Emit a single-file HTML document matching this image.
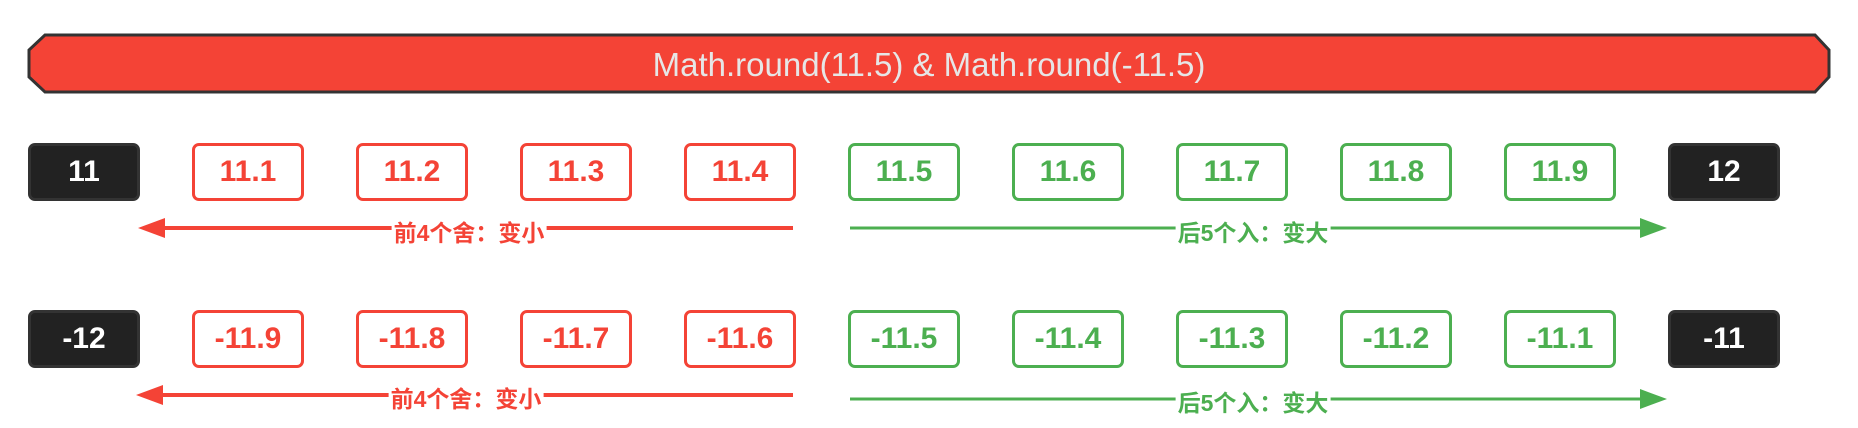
<!DOCTYPE html>
<html><head><meta charset="utf-8"><style>
body{margin:0;background:#fff;width:1858px;height:428px;overflow:hidden;position:relative;font-family:"Liberation Sans","Noto Sans CJK SC",sans-serif}
.box{position:absolute;width:106px;height:52px;border:3px solid;border-radius:7px;box-sizing:content-box;text-align:center;line-height:52px;font-weight:bold;font-size:30px;background:#fff}
.r{border-color:#f44336;color:#f44336}.g{border-color:#4caf50;color:#4caf50}
.k{background:#222;border-color:#333;color:#fff}
.lbl{position:absolute;font-weight:bold;font-size:23px;background:#fff;padding:0 2px;transform:translate(-50%,-50%);line-height:24px}
</style></head><body>
<svg style="position:absolute;left:0;top:0" width="1858" height="428">
<polygon points="45,35 1815,35 1829,50 1829,77 1815,92 45,92 29,77 29,50" fill="#f44336" stroke="#333" stroke-width="3"/>
<text x="929" y="76" text-anchor="middle" font-family="Liberation Sans, sans-serif" font-size="33" fill="#e6e6e6">Math.round(11.5) &amp; Math.round(-11.5)</text>
<g>
<line x1="793" y1="228" x2="160" y2="228" stroke="#f44336" stroke-width="4"/>
<polygon points="138,228 165,218 165,238" fill="#f44336"/>
<line x1="850" y1="228" x2="1645" y2="228" stroke="#4caf50" stroke-width="3"/>
<polygon points="1667,228 1640,218 1640,238" fill="#4caf50"/>
<line x1="793" y1="395" x2="160" y2="395" stroke="#f44336" stroke-width="4"/>
<polygon points="136,395 163,385 163,405" fill="#f44336"/>
<line x1="850" y1="399" x2="1645" y2="399" stroke="#4caf50" stroke-width="3"/>
<polygon points="1667,399 1640,389 1640,409" fill="#4caf50"/>
</g>
</svg>
<div class="lbl" style="left:469px;top:233px;color:#f44336">前4个舍：变小</div>
<div class="lbl" style="left:1253px;top:233px;color:#4caf50">后5个入：变大</div>
<div class="lbl" style="left:466px;top:399px;color:#f44336">前4个舍：变小</div>
<div class="lbl" style="left:1253px;top:403px;color:#4caf50">后5个入：变大</div>
<div id="boxes"></div>
<script>
const row1 = ["11","11.1","11.2","11.3","11.4","11.5","11.6","11.7","11.8","11.9","12"];
const row2 = ["-12","-11.9","-11.8","-11.7","-11.6","-11.5","-11.4","-11.3","-11.2","-11.1","-11"];
const c = document.getElementById('boxes');
function draw(arr, top){
  arr.forEach((v,i)=>{
    const d=document.createElement('div');
    d.className='box '+(i===0||i===arr.length-1?'k':(i<5?'r':'g'));
    d.style.left=(28+164*i)+'px';
    d.style.top=top+'px';
    d.textContent=v;
    
    
    c.appendChild(d);
  });
}
draw(row1,143);
draw(row2,310);
</script>
</body></html>
